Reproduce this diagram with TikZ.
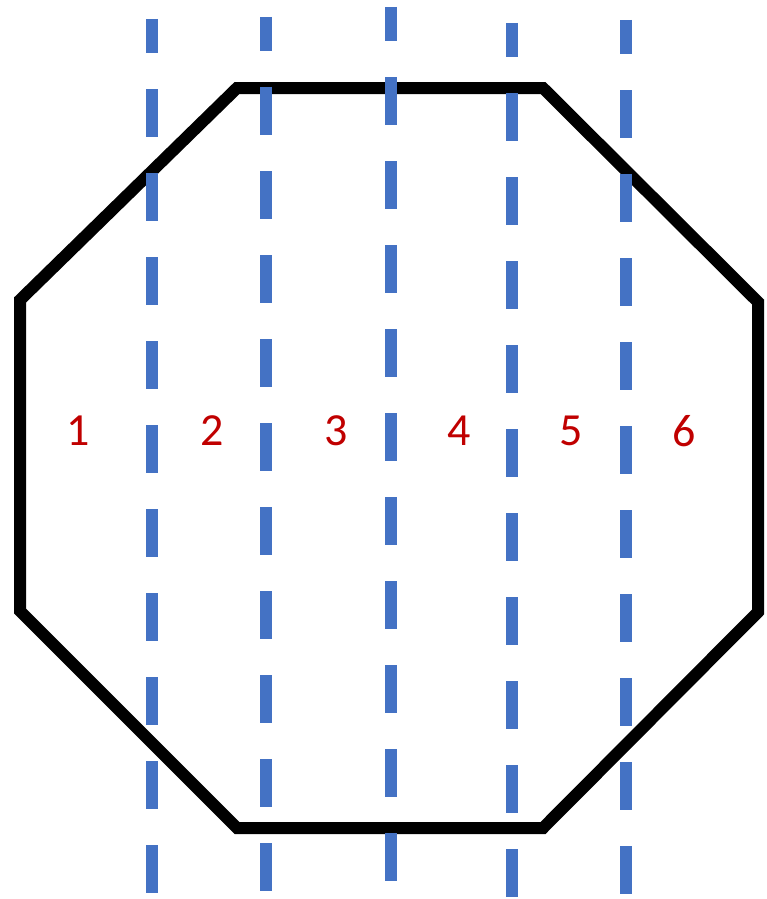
\documentclass[tikz,border=0pt]{standalone}
\usepackage{fontspec}
\setmainfont{Carlito}
\usepackage{tikz}
\usepackage{xcolor}
\definecolor{CutBlue}{HTML}{4472C4}
\definecolor{SliceRed}{HTML}{C00000}
\tikzset{
  outline/.style={draw=black,line width=12pt,line join=miter},
  cutline/.style={draw=CutBlue,line width=12pt,dash pattern=on 48pt off 36pt,dash phase=14pt},
  slicelabel/.style={text=SliceRed,font=\fontsize{46}{50}\selectfont,inner sep=0pt}
}

\begin{document}
\begin{tikzpicture}[x=1pt,y=-1pt]
  \useasboundingbox (0,0) rectangle (767,899);
  % octagon
  \coordinate (tl) at (237,88);
  \coordinate (tr) at (543,88);
  \coordinate (rt) at (758,302);
  \coordinate (rb) at (758,612);
  \coordinate (br) at (543,828);
  \coordinate (bl) at (237,828);
  \coordinate (lb) at (20,611);
  \coordinate (lt) at (20,300);
  \draw[outline] (tl)--(tr)--(rt)--(rb)--(br)--(bl)--(lb)--(lt)--cycle;
  % cuts
  \foreach \cx/\cs [count=\i] in {151.5/89,265.5/87,391/77,512/93,626/90}{
    \coordinate (cut\i top) at (\cx,\cs-70);
    \coordinate (cut\i bot) at (\cx,\cs+804);
    \draw[cutline] (cut\i top)--(cut\i bot);
  }
  % slice numbers
  \node[slicelabel] (s1) at (78.5,431) {1};
  \node[slicelabel] (s2) at (212.5,431) {2};
  \node[slicelabel] (s3) at (336,431) {3};
  \node[slicelabel] (s4) at (459,431) {4};
  \node[slicelabel] (s5) at (571.5,431) {5};
  \node[slicelabel] (s6) at (684,431) {6};
\end{tikzpicture}
\end{document}
